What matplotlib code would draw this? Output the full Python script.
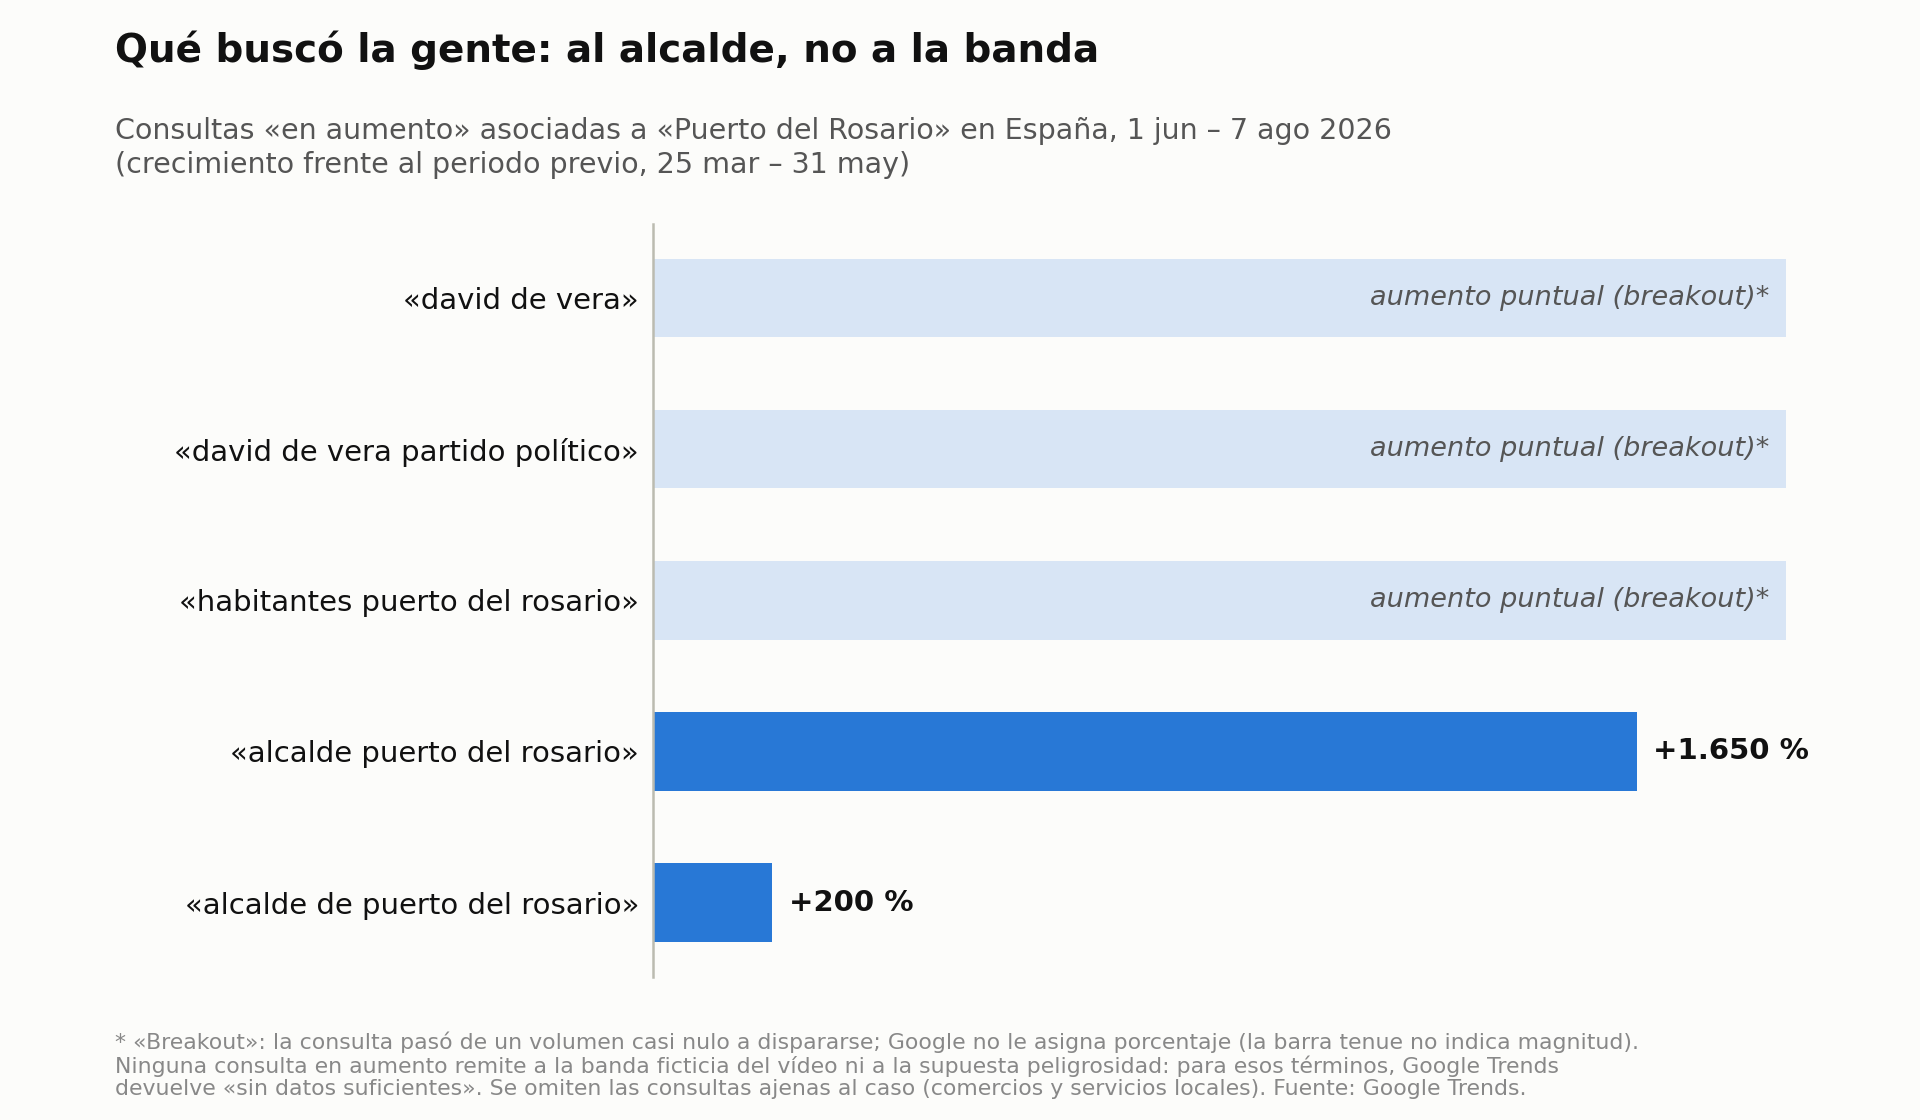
import matplotlib.pyplot as plt

# datos
consultas = ["«david de vera»", "«david de vera partido político»",
             "«habitantes puerto del rosario»", "«alcalde puerto del rosario»",
             "«alcalde de puerto del rosario»"]
crecimiento = [None, None, None, 1650, 200]   # None = breakout
etiquetas = ["aumento puntual (breakout)*"] * 3 + ["+1.650 %", "+200 %"]
xmax = 1900

bg = "#fcfcfa"
fig = plt.figure(figsize=(19.2, 11.2), dpi=100, facecolor=bg)
ax = fig.add_axes([0.34, 0.128, 0.59, 0.672], facecolor=bg)

y = list(range(len(consultas)))[::-1]
for yi, v, lab in zip(y, crecimiento, etiquetas):
    if v is None:
        ax.barh(yi, xmax, height=0.52, color="#d8e5f5")
        ax.text(xmax - 28, yi, lab, ha="right", va="center", fontsize=19.5,
                style="italic", color="#555555")
    else:
        ax.barh(yi, v, height=0.52, color="#2878d6")
        ax.text(v + 28, yi, lab, ha="left", va="center", fontsize=21,
                fontweight="bold", color="#111111", clip_on=False)

ax.set_xlim(0, xmax)
ax.set_ylim(-0.49, 4.49)
ax.set_yticks(y)
ax.set_yticklabels(consultas, fontsize=21, color="#111111")
ax.tick_params(axis="y", length=0, pad=10)
ax.set_xticks([])
for s in ["top", "right", "bottom"]:
    ax.spines[s].set_visible(False)
ax.spines["left"].set_color("#bbbbb0")
ax.spines["left"].set_linewidth(1.8)

fig.text(0.06, 0.955, "Qué buscó la gente: al alcalde, no a la banda",
         fontsize=28, fontweight="bold", va="center", color="#111111")
fig.text(0.06, 0.868, "Consultas «en aumento» asociadas a «Puerto del Rosario» en España, 1 jun – 7 ago 2026\n"
         "(crecimiento frente al periodo previo, 25 mar – 31 may)",
         fontsize=20.5, va="center", color="#555555", linespacing=1.25)
fig.text(0.06, 0.049, "* «Breakout»: la consulta pasó de un volumen casi nulo a dispararse; Google no le asigna porcentaje (la barra tenue no indica magnitud).\n"
         "Ninguna consulta en aumento remite a la banda ficticia del vídeo ni a la supuesta peligrosidad: para esos términos, Google Trends\n"
         "devuelve «sin datos suficientes». Se omiten las consultas ajenas al caso (comercios y servicios locales). Fuente: Google Trends.",
         fontsize=15.8, va="center", color="#888888", linespacing=1.15)

fig.savefig("out.png", facecolor=bg)
